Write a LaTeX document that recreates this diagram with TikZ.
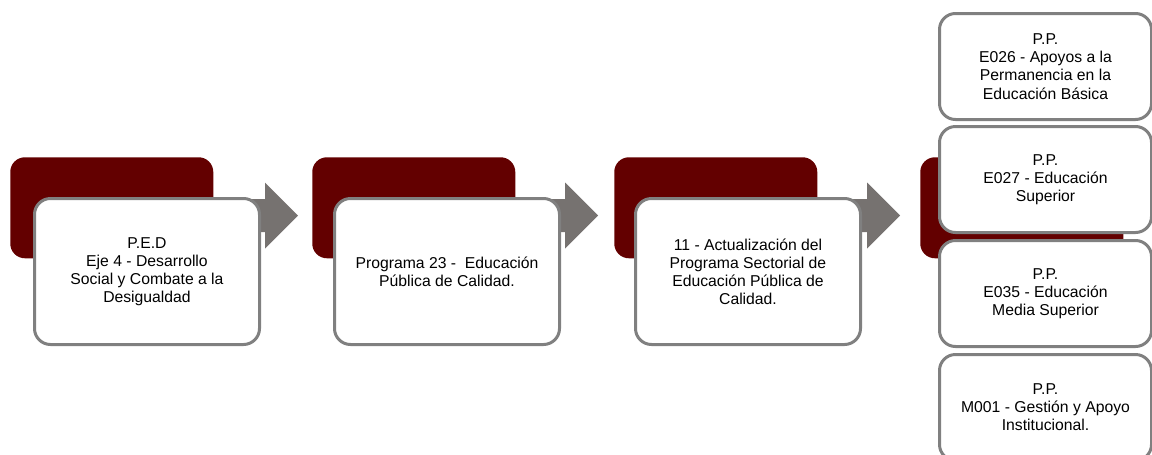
\documentclass[tikz,border=0pt]{standalone}
\usepackage{fontspec}
\setmainfont{Liberation Sans}
\definecolor{darkred}{RGB}{99,0,0}
\definecolor{arrowgray}{RGB}{118,114,112}
\definecolor{bordergray}{RGB}{128,128,128}

\begin{document}
\begin{tikzpicture}[
    x=0.75pt,
    y=-0.75pt,
    redbox/.style={
        fill=darkred,
        rounded corners=11pt,
        minimum width=152.25pt,
        minimum height=75.75pt,
        anchor=north west,
        inner sep=0pt,
        },
    textbox/.style={
        draw=bordergray,
        fill=white,
        line width=2.25pt,
        rounded corners=12pt,
        minimum width=168.75pt,
        minimum height=109.5pt,
        anchor=north west,
        align=center,
        inner sep=0pt,
        font=\fontsize{11.8}{13.6}\selectfont,
        },
    ppbox/.style={
        textbox,
        minimum width=159pt,
        minimum height=79.5pt,
        },
    blockarrow/.style={
        fill=arrowgray,
        },
]

\useasboundingbox (0,0) rectangle (1152,454);
\clip (0,0) rectangle (1152,454);

% red tabs behind
\node[redbox] (red1) at (10,157) {};
\node[redbox] (red2) at (312,157) {};
\node[redbox] (red3) at (614,157) {};
\node[redbox] (red4) at (920,157) {};

% arrows between steps
\coordinate (tip1) at (298,215.5);
\coordinate (tip2) at (598,215.5);
\coordinate (tip3) at (900,215.5);
\foreach \t in {tip1,tip2,tip3}
    \fill[blockarrow] ([shift={(-58,-16.5)}]\t) -- ([shift={(-33,-16.5)}]\t)
        -- ([shift={(-33,-33)}]\t) -- (\t) -- ([shift={(-33,33)}]\t)
        -- ([shift={(-33,16.5)}]\t) -- ([shift={(-58,16.5)}]\t) -- cycle;

% white boxes
\node[textbox] (ped) at (33,197) {P.E.D\\Eje 4 - Desarrollo\\Social y Combate a la\\Desigualdad};
\node[textbox] (prog) at (333,197) {Programa 23 -~ Educación\\Pública de Calidad.};
\node[textbox] (act) at (634,197) {11 - Actualización del\\Programa Sectorial de\\Educación Pública de\\Calidad.};

\node[ppbox] (pp1) at (938,12) {P.P.\\E026 - Apoyos a la\\Permanencia en la\\Educación Básica};
\node[ppbox] (pp2) at (938,125) {P.P.\\E027 - Educación\\Superior};
\node[ppbox] (pp3) at (938,239) {P.P.\\E035 - Educación\\Media Superior};
\node[ppbox] (pp4) at (938,353) {P.P.\\M001 - Gestión y Apoyo\\Institucional.};

\end{tikzpicture}
\end{document}
